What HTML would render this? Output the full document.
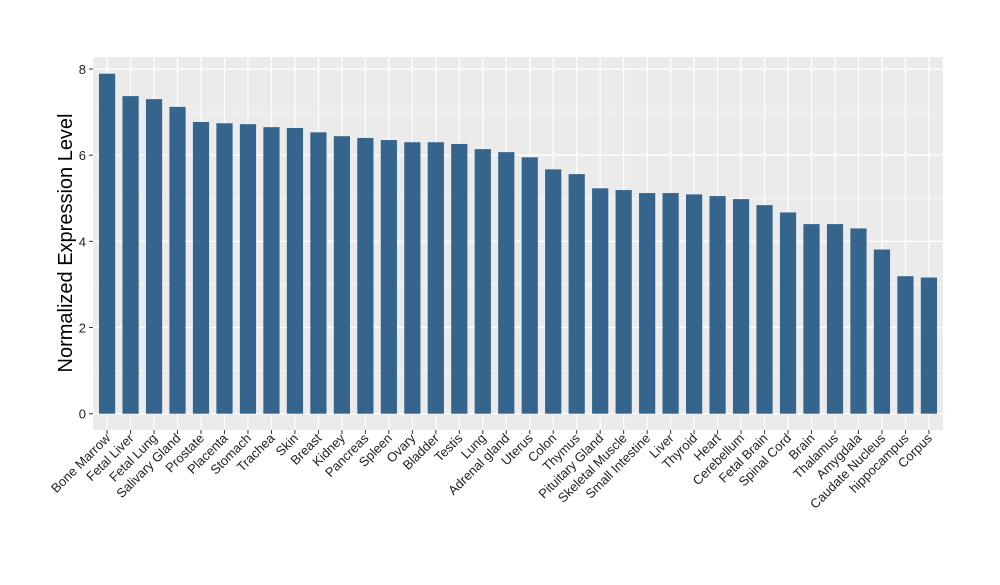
<!DOCTYPE html>
<html><head><meta charset="utf-8"><style>
body{margin:0;background:#fff;font-family:"Liberation Sans",sans-serif;}
</style></head><body>
<svg id="chart" width="1000" height="580" xmlns="http://www.w3.org/2000/svg" font-family="Liberation Sans, sans-serif">
<rect x="0" y="0" width="1000" height="580" fill="#fff"/>
<rect x="93" y="57" width="850" height="373" fill="#EBEBEB"/>
<g id="grid"></g><g id="bars"></g><g id="axes"></g>
<text transform="translate(72,243) rotate(-90)" text-anchor="middle" font-size="20" fill="#000">Normalized Expression Level</text>
</svg>
<script>
const categories=["Bone Marrow","Fetal Liver","Fetal Lung","Salivary Gland","Prostate","Placenta","Stomach","Trachea","Skin","Breast","Kidney","Pancreas","Spleen","Ovary","Bladder","Testis","Lung","Adrenal gland","Uterus","Colon","Thymus","Pituitary Gland","Skeletal Muscle","Small Intestine","Liver","Thyroid","Heart","Cerebellum","Fetal Brain","Spinal Cord","Brain","Thalamus","Amygdala","Caudate Nucleus","hippocampus","Corpus"];
const values=[7.89,7.37,7.3,7.12,6.77,6.74,6.72,6.65,6.63,6.53,6.44,6.4,6.35,6.3,6.3,6.26,6.14,6.07,5.95,5.67,5.56,5.23,5.19,5.12,5.12,5.09,5.05,4.98,4.84,4.67,4.4,4.4,4.3,3.81,3.19,3.16];
const yTicks=[0,2,4,6,8];
const yMinor=[1,3,5,7];
const NS="http://www.w3.org/2000/svg";
const L=93,R=943,T=57,B=430;
const y0=413.7,pxPerUnit=43.09;
function yScale(v){return y0-v*pxPerUnit;}
const step=(R-L)/(categories.length-1+1.2);
function xScale(i){return L+step*(0.6+i);}
const bw=step*0.69;
function mk(tag,attrs,parent){const e=document.createElementNS(NS,tag);for(const k in attrs)e.setAttribute(k,attrs[k]);parent.appendChild(e);return e;}
const grid=document.getElementById('grid'),bars=document.getElementById('bars'),axes=document.getElementById('axes');
yMinor.forEach(v=>{const l=mk('line',{x1:L,x2:R,y1:yScale(v),y2:yScale(v),stroke:'#fff','stroke-width':0.6},grid);

});
yTicks.forEach(v=>{const l=mk('line',{x1:L,x2:R,y1:yScale(v),y2:yScale(v),stroke:'#fff','stroke-width':1.2},grid);


const t=mk('line',{x1:L-4,x2:L,y1:yScale(v),y2:yScale(v),stroke:'#333','stroke-width':1},axes);


const tx=mk('text',{x:L-7,y:yScale(v)+5,'text-anchor':'end','font-size':13,fill:'#222'},axes);
tx.textContent=v;

});
categories.forEach((c,i)=>{const x=xScale(i);
const g=mk('line',{x1:x,x2:x,y1:T,y2:B,stroke:'#fff','stroke-width':1.2},grid);


const b=mk('rect',{x:x-bw/2,y:yScale(values[i]),width:bw,height:y0-yScale(values[i]),fill:'#35648C'},bars);


const t=mk('line',{x1:x,x2:x,y1:B,y2:B+4,stroke:'#333','stroke-width':1},axes);


const tx=mk('text',{transform:`translate(${x+4},${B+9}) rotate(-45)`,'text-anchor':'end','font-size':13,fill:'#222'},axes);
tx.textContent=c;

});
</script>
</body></html>
